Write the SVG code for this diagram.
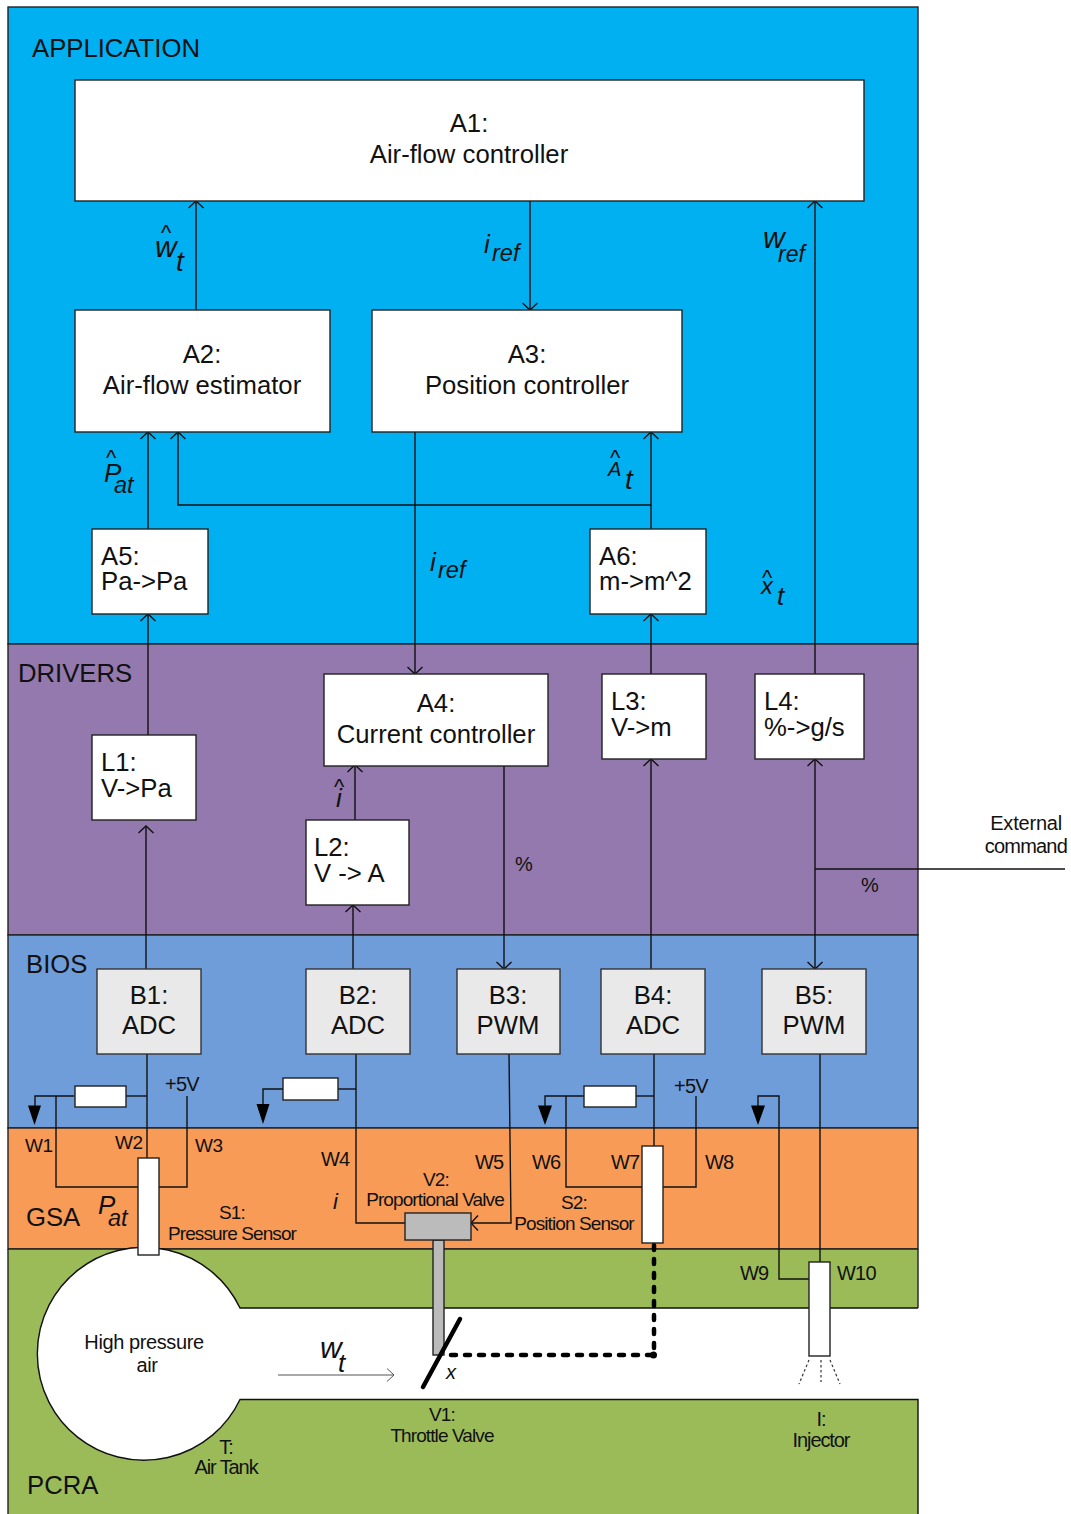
<svg xmlns="http://www.w3.org/2000/svg" width="1071" height="1514" viewBox="0 0 1071 1514">
<defs>
<marker id="open" viewBox="-9 -9 10 18" refX="0" refY="0" markerWidth="10" markerHeight="18" markerUnits="userSpaceOnUse" orient="auto"><path d="M-7,-7.500 L0,0 L-7,7.500" fill="none" stroke="#111" stroke-width="1.400"/></marker>
<marker id="opengrey" viewBox="-9 -9 10 18" refX="0" refY="0" markerWidth="10" markerHeight="18" markerUnits="userSpaceOnUse" orient="auto"><path d="M-7,-6.500 L0,0 L-7,6.500" fill="none" stroke="#555" stroke-width="1"/></marker>
</defs>
<style>
text{font-family:"Liberation Sans",Arial,sans-serif;fill:#111}
.band{stroke:#222;stroke-width:1.4}
.box{fill:#fff;stroke:#222;stroke-width:1.4}
.grey{fill:#e9e9e9;stroke:#333;stroke-width:1.4}
.wire{fill:none;stroke:#111;stroke-width:1.4}
.arr{marker-end:url(#open)}
.t25{font-size:25.700px;text-anchor:middle}
.l25{font-size:25.700px}
.t20{font-size:20px;letter-spacing:-.8px}
.w19{font-size:19px;letter-spacing:-.5px}
.m20{font-size:19px;letter-spacing:-.9px;text-anchor:middle}
.m21{font-size:20px;letter-spacing:-.4px;text-anchor:middle}
.m22{font-size:20px;letter-spacing:-1.100px;text-anchor:middle}
.i{font-style:italic}
.i26{font-size:26px;font-style:italic}
.i28{font-size:28px;font-style:italic}
.w30{font-size:30px;font-style:italic}
.sub{font-size:23.500px;font-style:italic}
.i20{font-size:20px;font-style:italic}
.hat{font-size:22px}
.tri{fill:#000}
</style>
<rect width="1071" height="1514" fill="#fff"/>
<g id="layers">
<rect class="band" x="8" y="7" width="910" height="637" fill="#00b0f0"/>
<rect class="band" x="8" y="644" width="910" height="291" fill="#9379ad"/>
<rect class="band" x="8" y="935" width="910" height="193" fill="#6f9dd9"/>
<rect class="band" x="8" y="1128" width="910" height="121" fill="#f79b57"/>
<rect x="8" y="1249" width="910" height="265" fill="#9bbb59"/>
<path class="band" fill="none" d="M8,1249 H918 M8,1249 V1514 M918,1249 V1308"/>
<path d="M240,1308 A106.5,106.5 0 1 0 240,1400 H918 V1308 Z" fill="#fff"/>
<path d="M918,1308 H240 A106.5,106.500 0 1 0 240,1399.500 H918 V1514" fill="none" stroke="#111" stroke-width="1.400"/>
<text x="32" y="57" class="l25">APPLICATION</text>
<text x="18" y="682" class="l25">DRIVERS</text>
<text x="26" y="973" class="l25">BIOS</text>
<text x="26" y="1226" class="l25">GSA</text>
<text x="27" y="1494" class="l25">PCRA</text>
</g>
<g id="connectors">
<path class="wire arr" d="M196,310 V201"/>
<path class="wire arr" d="M530,201 V310"/>
<path class="wire arr" d="M815,674 V201"/>
<path class="wire arr" d="M148,529 V432"/>
<path class="wire arr" d="M651,529 V432"/>
<path class="wire arr" d="M651,505 H178 V432"/>
<path class="wire arr" d="M415,432 V674"/>
<path class="wire arr" d="M148,735 V614"/>
<path class="wire arr" d="M651,674 V614"/>
<path class="wire arr" d="M146,969 V826"/>
<path class="wire arr" d="M353,969 V905"/>
<path class="wire arr" d="M355,820 V765"/>
<path class="wire arr" d="M504,766 V969"/>
<path class="wire arr" d="M651,969 V759"/>
<path class="wire arr" d="M815,869 V759"/>
<path class="wire arr" d="M815,869 V969"/>
<path class="wire" d="M1065,869 H815"/>
<path class="wire" d="M147,1054 V1158"/>
<path class="wire" d="M126,1096 H147"/>
<path class="wire" d="M74,1096 H35 V1106"/>
<path class="wire" d="M56,1096 V1187 H138"/>
<path class="wire" d="M187,1096 V1187 H159"/>
<path class="wire" d="M356,1054 V1223 H405"/>
<path class="wire" d="M338,1089 H356"/>
<path class="wire" d="M283,1089 H263 V1105"/>
<path class="wire arr" d="M509,1054 L511,1223 H471"/>
<path class="wire" d="M654,1054 V1146"/>
<path class="wire" d="M636,1096 H654"/>
<path class="wire" d="M584,1096 H545 V1106"/>
<path class="wire" d="M566,1096 V1187 H642"/>
<path class="wire" d="M696,1096 V1187 H663"/>
<path class="wire" d="M820,1054 V1262"/>
<path class="wire" d="M809,1279 H779 V1096 H758 V1106"/>
<path class="tri" d="M28,1105.500 H41 L34.500,1125 Z"/>
<path class="tri" d="M256.500,1104 H269.500 L263,1124 Z"/>
<path class="tri" d="M538,1105.500 H552 L545,1125 Z"/>
<path class="tri" d="M751,1105.500 H765 L758,1125 Z"/>
<path d="M654,1245 V1355 H444" fill="none" stroke="#000" stroke-width="4.500" stroke-dasharray="5 9" stroke-linecap="round"/>
<circle cx="653.500" cy="1355" r="3.500" fill="#000"/>
<path d="M278,1375 H394" fill="none" stroke="#555" stroke-width="1" marker-end="url(#opengrey)"/>
<path d="M809,1360 L799,1384 M821,1360 V1382 M830,1360 L840,1384" fill="none" stroke="#333" stroke-width="1.200" stroke-dasharray="2.500 2.500"/>
</g>
<g id="A1"><rect class="box" x="75" y="80" width="789" height="121"/><text x="469" y="132" class="t25">A1:</text><text x="469" y="163" class="t25">Air-flow controller</text></g>
<g id="A2"><rect class="box" x="75" y="310" width="255" height="122"/><text x="202" y="363" class="t25">A2:</text><text x="202" y="394" class="t25">Air-flow estimator</text></g>
<g id="A3"><rect class="box" x="372" y="310" width="310" height="122"/><text x="527" y="363" class="t25">A3:</text><text x="527" y="394" class="t25">Position controller</text></g>
<g id="A5"><rect class="box" x="92" y="529" width="116" height="85"/><text x="101" y="565" class="l25">A5:</text><text x="101" y="590" class="l25">Pa-&gt;Pa</text></g>
<g id="A6"><rect class="box" x="590" y="529" width="116" height="85"/><text x="599" y="565" class="l25">A6:</text><text x="599" y="590" class="l25">m-&gt;m^2</text></g>
<g id="A4"><rect class="box" x="324" y="674" width="224" height="92"/><text x="436" y="712" class="t25">A4:</text><text x="436" y="743" class="t25">Current controller</text></g>
<g id="L1"><rect class="box" x="92" y="735" width="104" height="85"/><text x="101" y="771" class="l25">L1:</text><text x="101" y="797" class="l25">V-&gt;Pa</text></g>
<g id="L2"><rect class="box" x="306" y="820" width="103" height="85"/><text x="314" y="856" class="l25">L2:</text><text x="314" y="882" class="l25">V -&gt; A</text></g>
<g id="L3"><rect class="box" x="602" y="674" width="104" height="85"/><text x="611" y="710" class="l25">L3:</text><text x="611" y="736" class="l25">V-&gt;m</text></g>
<g id="L4"><rect class="box" x="755" y="674" width="109" height="85"/><text x="764" y="710" class="l25">L4:</text><text x="764" y="736" class="l25">%-&gt;g/s</text></g>
<g id="B1"><rect class="grey" x="97" y="969" width="104" height="85"/><text x="149" y="1004" class="t25">B1:</text><text x="149" y="1034" class="t25">ADC</text></g>
<g id="B2"><rect class="grey" x="306" y="969" width="104" height="85"/><text x="358" y="1004" class="t25">B2:</text><text x="358" y="1034" class="t25">ADC</text></g>
<g id="B3"><rect class="grey" x="457" y="969" width="103" height="85"/><text x="508" y="1004" class="t25">B3:</text><text x="508" y="1034" class="t25">PWM</text></g>
<g id="B4"><rect class="grey" x="601" y="969" width="104" height="85"/><text x="653" y="1004" class="t25">B4:</text><text x="653" y="1034" class="t25">ADC</text></g>
<g id="B5"><rect class="grey" x="762" y="969" width="104" height="85"/><text x="814" y="1004" class="t25">B5:</text><text x="814" y="1034" class="t25">PWM</text></g>
<g id="R1"><rect class="box" x="75" y="1086" width="51" height="21"/></g>
<g id="R2"><rect class="box" x="283" y="1078" width="55" height="22"/></g>
<g id="R3"><rect class="box" x="584" y="1086" width="52" height="21"/></g>
<g id="S1"><rect class="box" x="138" y="1158" width="21" height="97"/><text x="232" y="1219" class="m20">S1:</text><text x="232" y="1240" class="m20">Pressure Sensor</text></g>
<g id="S2"><rect class="box" x="642" y="1146" width="21" height="97"/><text x="574" y="1209" class="m20">S2:</text><text x="574" y="1230" class="m20">Position Sensor</text></g>
<g id="V2"><rect x="433" y="1240" width="11" height="115" fill="#bbb" stroke="#222" stroke-width="1.400"/><rect x="405" y="1213" width="66" height="27" fill="#bbb" stroke="#222" stroke-width="1.400"/><text x="436" y="1186" class="m20">V2:</text><text x="435" y="1206" class="m20">Proportional Valve</text></g>
<g id="V1"><path d="M423,1387 L460,1319" stroke="#000" stroke-width="4.500" stroke-linecap="round"/><text x="442" y="1421" class="m20">V1:</text><text x="442" y="1442" class="m20">Throttle Valve</text></g>
<g id="I"><rect class="box" x="809" y="1262" width="21" height="94"/><text x="821" y="1426" class="m22">I:</text><text x="821" y="1447" class="m22">Injector</text></g>
<g id="T"><text x="144" y="1349" class="m21">High pressure</text><text x="147" y="1372" class="m21">air</text><text x="226" y="1454" class="m22">T:</text><text x="226" y="1474" class="m22">Air Tank</text></g>
<g id="labels">
<text x="25" y="1152" class="w19">W1</text><text x="115" y="1149" class="w19">W2</text><text x="195" y="1152" class="w19">W3</text>
<text x="321" y="1166" class="t20">W4</text><text x="475" y="1169" class="t20">W5</text><text x="532" y="1169" class="t20">W6</text><text x="611" y="1169" class="t20">W7</text><text x="705" y="1169" class="t20">W8</text>
<text x="740" y="1280" class="t20">W9</text><text x="837" y="1280" class="t20">W10</text>
<text x="165" y="1091" class="t20">+5V</text><text x="674" y="1093" class="t20">+5V</text>
<text x="1062" y="830" style="font-size:20px;letter-spacing:-.2px" text-anchor="end">External</text><text x="1067" y="853" class="t20" text-anchor="end">command</text>
<text x="515" y="871" style="font-size:20px">%</text><text x="861" y="892" style="font-size:20px">%</text>
<text x="161" y="240" class="hat">^</text><text x="155" y="257" class="w30">w</text><text x="176" y="271" class="i28">t</text>
<text x="484" y="253" class="i26">i</text><text x="492" y="261" class="sub">ref</text>
<text x="763" y="248" class="w30">w</text><text x="778" y="262" class="sub" style="font-size:23px">ref</text>
<text x="106" y="465" class="hat">^</text><text x="104" y="482" class="i26">P</text><text x="114" y="493" class="sub">at</text>
<text x="610" y="465" class="hat">^</text><text x="608" y="476" class="i20">A</text><text x="625" y="489" class="i28">t</text>
<text x="430" y="571" class="i26">i</text><text x="438" y="578" class="sub">ref</text>
<text x="762" y="585" class="hat">^</text><text x="761" y="594" style="font-size:24px;font-style:italic">x</text><text x="777" y="605" class="i26">t</text>
<text x="334" y="794" class="hat">^</text><text x="336" y="807" class="i26">i</text>
<text x="98" y="1214" class="i26">P</text><text x="108" y="1226" class="sub">at</text>
<text x="333" y="1209" class="i26" style="font-size:22px">i</text>
<text x="320" y="1358" class="w30">w</text><text x="338" y="1372" class="i26">t</text>
<text x="446" y="1379" class="i20">x</text>
</g>
</svg>
